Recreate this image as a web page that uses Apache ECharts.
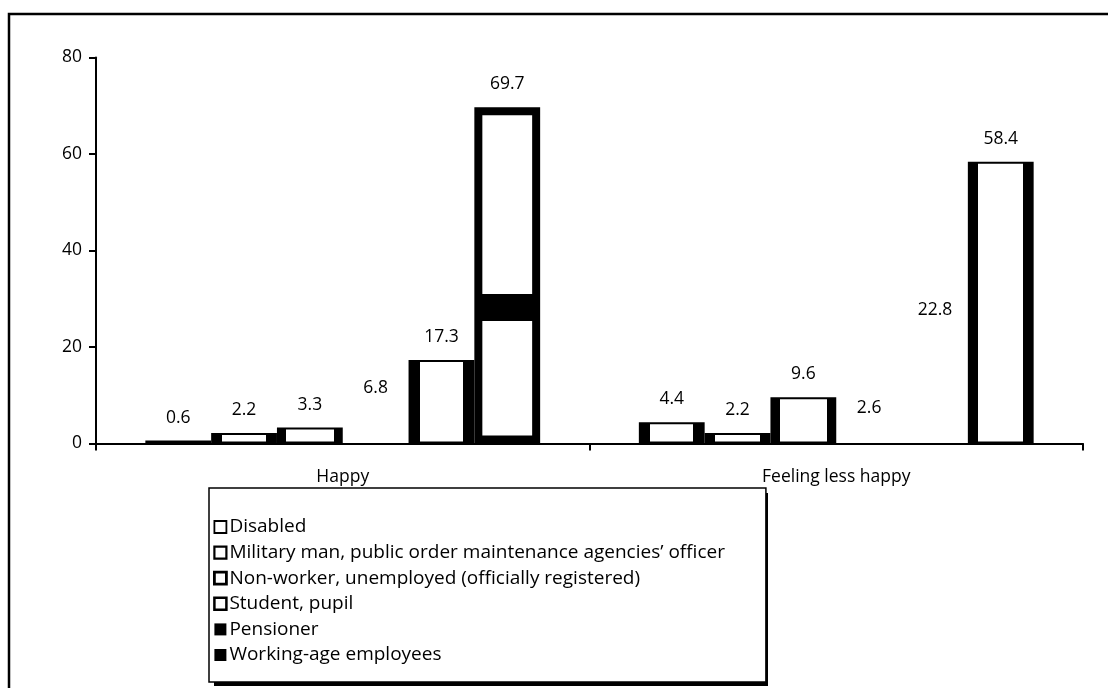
<!DOCTYPE html>
<html>
<head>
<meta charset="utf-8">
<script src="https://cdn.jsdelivr.net/npm/echarts@6/dist/echarts.min.js"></script>
<style>
html,body{margin:0;padding:0;background:#fff;}
#chart{width:1108px;height:688px;}
</style>
</head>
<body>
<div id="chart"></div>
<script>
const categories = ['Happy', 'Feeling less happy'];
const seriesNames = [
  'Disabled',
  'Military man, public order maintenance agencies\u2019 officer',
  'Non-worker, unemployed (officially registered)',
  'Student, pupil',
  'Pensioner',
  'Working-age employees'
];
const disabled = [0.6, 4.4];
const military = [2.2, 2.2];
const nonWorker = [3.3, 9.6];
const student = [6.8, 2.6];
const pensioner = [17.3, 22.8];
const workingAge = [69.7, 58.4];
const yMin = 0, yMax = 80, yInterval = 20;

const FONT = 'Open Sans';

function sideGrad(f) {
  return {
    type: 'linear', x: 0, y: 0, x2: 1, y2: 0,
    colorStops: [
      {offset: 0, color: '#000'}, {offset: f, color: '#000'},
      {offset: f, color: '#fff'}, {offset: 1 - f, color: '#fff'},
      {offset: 1 - f, color: '#000'}, {offset: 1, color: '#000'}
    ]
  };
}
function bandGrad(a, b) {
  return {
    type: 'linear', x: 0, y: 0, x2: 0, y2: 1,
    colorStops: [
      {offset: 0, color: '#fff'}, {offset: a, color: '#fff'},
      {offset: a, color: '#000'}, {offset: b, color: '#000'},
      {offset: b, color: '#fff'}, {offset: 1, color: '#fff'}
    ]
  };
}

const seriesValues = [disabled, military, nonWorker, student, pensioner, workingAge];
// visual styling per series / item (not data)
const seriesStyle = [
  {color: sideGrad(0.17), borderColor: '#000', borderWidth: 2},
  {color: sideGrad(0.16), borderColor: '#000', borderWidth: 2},
  {color: sideGrad(0.14), borderColor: '#000', borderWidth: 2},
  {color: 'rgba(0,0,0,0)', borderWidth: 0},
  {color: sideGrad(0.17), borderColor: '#000', borderWidth: 2},
  {color: sideGrad(0.16), borderColor: '#000', borderWidth: 2}
];
const itemOverride = {
  '4-1': {color: 'rgba(0,0,0,0)', borderWidth: 0},
  '5-0': {color: bandGrad(0.555, 0.635), borderColor: '#000', borderWidth: 8}
};
const legendIconStyle = [
  {color: '#fff', borderColor: '#000', borderWidth: 1.8},
  {color: '#fff', borderColor: '#000', borderWidth: 2.2},
  {color: '#fff', borderColor: '#000', borderWidth: 2.8},
  {color: '#fff', borderColor: '#000', borderWidth: 2.5},
  {color: '#000', borderColor: '#000', borderWidth: 0},
  {color: '#000', borderColor: '#000', borderWidth: 0}
];

const series = seriesNames.map((name, si) => ({
  name: name,
  type: 'bar',
  barGap: 0,
  barCategoryGap: '20%',
  itemStyle: seriesStyle[si],
  label: {
    show: true, position: 'top', distance: 14,
    color: '#000', fontFamily: FONT, fontSize: 17.5
  },
  emphasis: {disabled: true},
  data: seriesValues[si].map((v, ci) => {
    const o = itemOverride[si + '-' + ci];
    return o ? {value: v, itemStyle: o} : v;
  })
}));

const chart = echarts.init(document.getElementById('chart'), null, {renderer: 'canvas'});
chart.setOption({
  animation: false,
  backgroundColor: '#fff',
  textStyle: {fontFamily: FONT, color: '#000'},
  graphic: [
    {
      type: 'rect', z: 100, silent: true,
      shape: {x: 9, y: 14, width: 1130, height: 700},
      style: {fill: 'none', stroke: '#000', lineWidth: 2.5}
    },
    {
      type: 'rect', z: 0, silent: true,
      shape: {x: 214, y: 493, width: 554, height: 193},
      style: {fill: '#000'}
    }
  ],
  grid: {left: 96, right: 25, top: 57.5, bottom: 244.5, containLabel: false},
  legend: {
    orient: 'vertical',
    left: 209, top: 488,
    padding: [29, 41, 17, 4],
    itemWidth: 12, itemHeight: 12, itemGap: 5.6,
    backgroundColor: '#fff',
    borderColor: '#000', borderWidth: 1.5,
    textStyle: {fontFamily: FONT, fontSize: 19, color: '#000', lineHeight: 20, padding: [0, 0, 0, -2]},
    data: seriesNames.map((n, i) => ({name: n, icon: 'rect', itemStyle: legendIconStyle[i]})),
    selectedMode: false
  },
  xAxis: {
    type: 'category',
    data: categories,
    axisLine: {show: true, lineStyle: {color: '#000', width: 2}},
    axisTick: {show: true, alignWithLabel: false, length: 7, lineStyle: {color: '#000', width: 2}},
    axisLabel: {color: '#000', fontFamily: FONT, fontSize: 17.5, margin: 25},
    splitLine: {show: false}
  },
  yAxis: {
    type: 'value',
    min: yMin, max: yMax, interval: yInterval,
    axisLine: {show: true, lineStyle: {color: '#000', width: 2}},
    axisTick: {show: true, length: 7, lineStyle: {color: '#000', width: 2}},
    axisLabel: {color: '#000', fontFamily: FONT, fontSize: 17.5, margin: 14},
    splitLine: {show: false}
  },
  series: series
});
</script>
</body>
</html>
